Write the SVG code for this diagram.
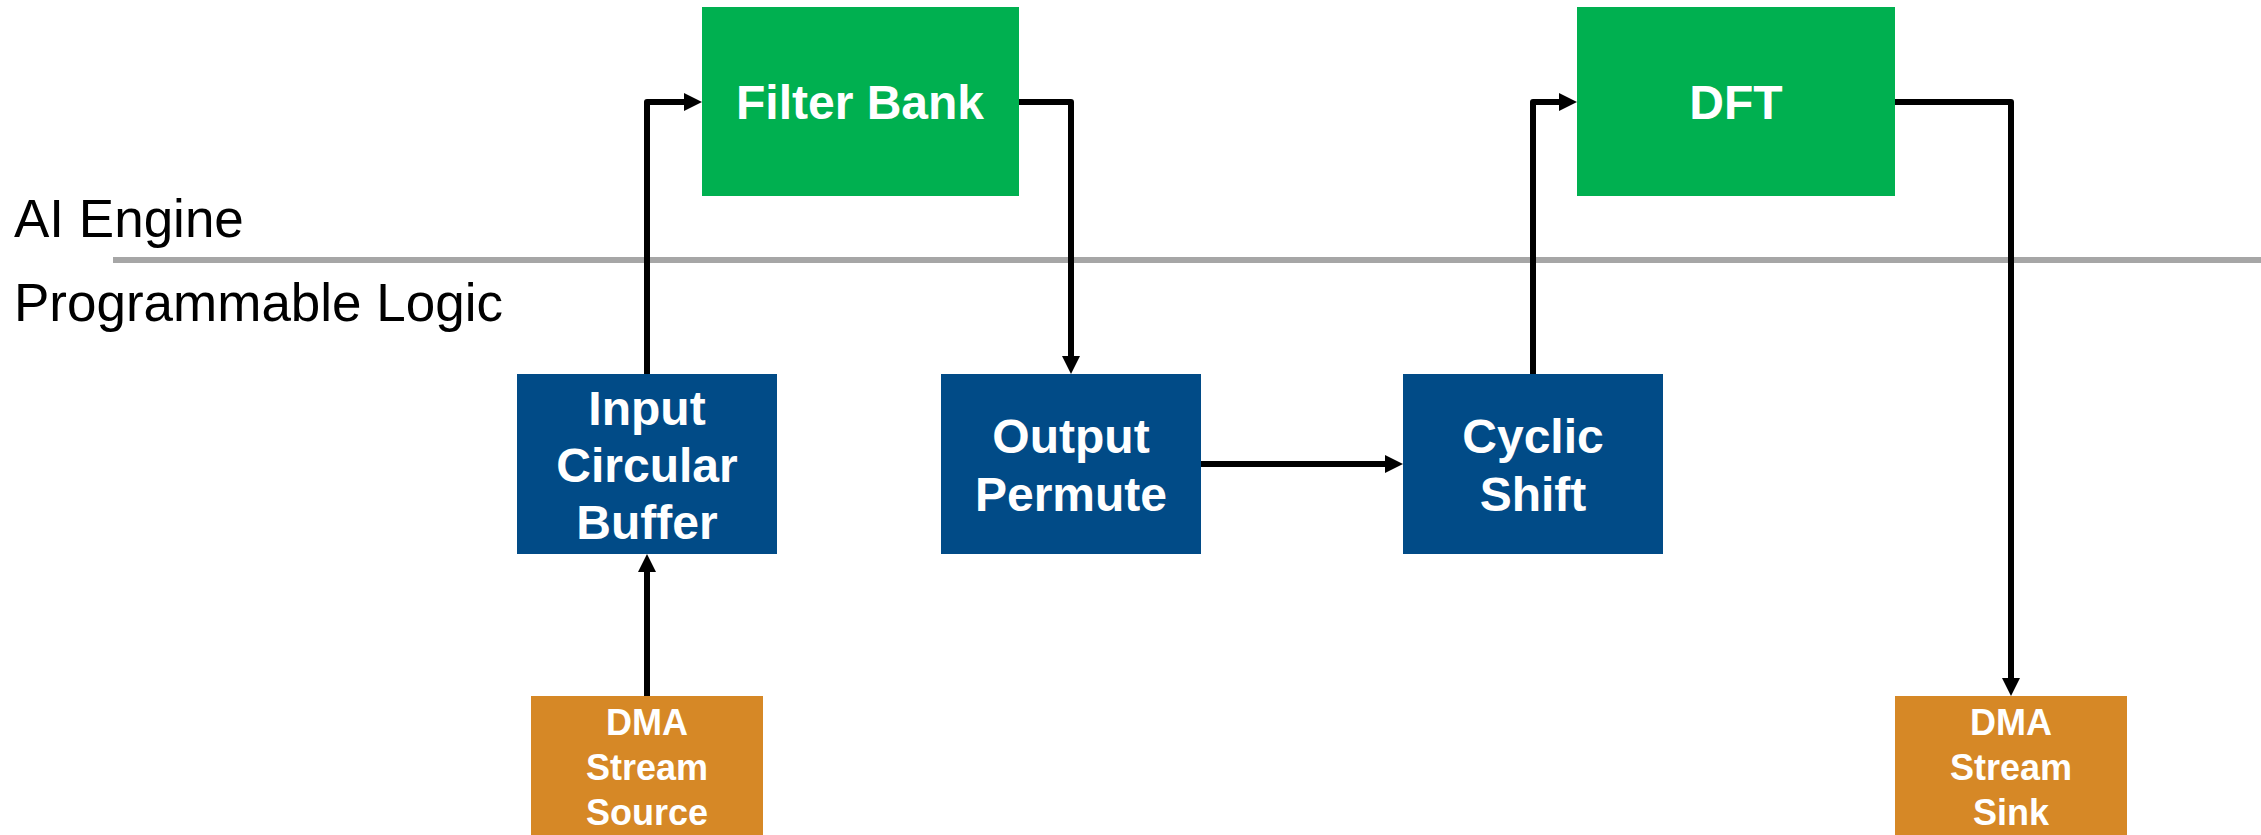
<svg xmlns="http://www.w3.org/2000/svg" width="2261" height="835" viewBox="0 0 2261 835">
  <style>
    .aie { fill: #00B050; }
    .pl { fill: #014B87; }
    .dma { fill: #D68826; }
    .lbl { font-family: "Liberation Sans", Arial, sans-serif; font-weight: bold; fill: #FFFFFF; text-anchor: middle; }
    .big { font-size: 48px; }
    .small { font-size: 36px; }
    .region { font-family: "Liberation Sans", Arial, sans-serif; font-size: 53px; fill: #000000; }
    .wire { fill: none; stroke: #000000; stroke-width: 6; stroke-linejoin: round; marker-end: url(#arrow); }
  </style>
  <defs>
    <marker id="arrow" markerUnits="userSpaceOnUse" markerWidth="18" markerHeight="18" refX="8" refY="9" orient="auto">
      <path d="M0,0 L18,9 L0,18 z" fill="#000000"/>
    </marker>
  </defs>

  <rect x="0" y="0" width="2261" height="835" fill="#FFFFFF"/>

  <!-- boundary between AI Engine and Programmable Logic -->
  <line x1="113" y1="260" x2="2261" y2="260" stroke="#A6A6A6" stroke-width="6"/>
  <text class="region" x="14" y="237">AI Engine</text>
  <text class="region" x="14" y="321">Programmable Logic</text>

  <g id="filter-bank">
    <rect class="aie" x="702" y="7" width="317" height="189"/>
    <text class="lbl big" x="860" y="119">Filter Bank</text>
  </g>

  <g id="dft">
    <rect class="aie" x="1577" y="7" width="318" height="189"/>
    <text class="lbl big" x="1736" y="119">DFT</text>
  </g>

  <g id="input-circular-buffer">
    <rect class="pl" x="517" y="374" width="260" height="180"/>
    <text class="lbl big" x="647" y="425">Input</text>
    <text class="lbl big" x="647" y="482">Circular</text>
    <text class="lbl big" x="647" y="539">Buffer</text>
  </g>

  <g id="output-permute">
    <rect class="pl" x="941" y="374" width="260" height="180"/>
    <text class="lbl big" x="1071" y="453">Output</text>
    <text class="lbl big" x="1071" y="511">Permute</text>
  </g>

  <g id="cyclic-shift">
    <rect class="pl" x="1403" y="374" width="260" height="180"/>
    <text class="lbl big" x="1533" y="453">Cyclic</text>
    <text class="lbl big" x="1533" y="511">Shift</text>
  </g>

  <g id="dma-stream-source">
    <rect class="dma" x="531" y="696" width="232" height="150"/>
    <text class="lbl small" x="647" y="735">DMA</text>
    <text class="lbl small" x="647" y="780">Stream</text>
    <text class="lbl small" x="647" y="825">Source</text>
  </g>

  <g id="dma-stream-sink">
    <rect class="dma" x="1895" y="696" width="232" height="150"/>
    <text class="lbl small" x="2011" y="735">DMA</text>
    <text class="lbl small" x="2011" y="780">Stream</text>
    <text class="lbl small" x="2011" y="825">Sink</text>
  </g>

  <g id="connectors">
    <!-- DMA source up into the input buffer -->
    <path class="wire" d="M647,696 L647,564"/>
    <!-- input buffer up to filter bank -->
    <path class="wire" d="M647,374 L647,102 L692,102"/>
    <!-- filter bank down to output permute -->
    <path class="wire" d="M1019,102 L1071,102 L1071,364"/>
    <!-- output permute to cyclic shift -->
    <path class="wire" d="M1201,464 L1393,464"/>
    <!-- cyclic shift up to DFT -->
    <path class="wire" d="M1533,374 L1533,102 L1567,102"/>
    <!-- DFT down to DMA sink -->
    <path class="wire" d="M1895,102 L2011,102 L2011,686"/>
  </g>
</svg>
